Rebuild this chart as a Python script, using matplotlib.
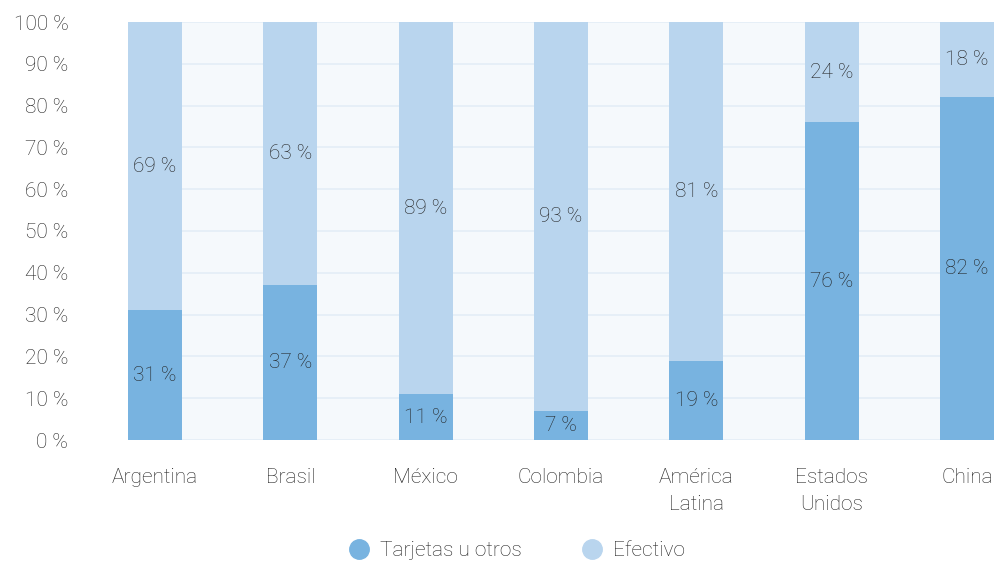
import matplotlib
matplotlib.use('Agg')
import matplotlib.pyplot as plt
from matplotlib.lines import Line2D
import numpy as np

paises = ['Argentina', 'Brasil', 'México', 'Colombia', 'América\nLatina',
          'Estados\nUnidos', 'China']
tarjetas = [31, 37, 11, 7, 19, 76, 82]
efectivo = [69, 63, 89, 93, 81, 24, 18]
yticks = [0, 10, 20, 30, 40, 50, 60, 70, 80, 90, 100]

c_tarjetas = '#78b3e0'
c_efectivo = '#b9d5ee'
c_texto = '#222222'

plt.rcParams['font.family'] = ['Roboto', 'DejaVu Sans']
plt.rcParams['font.weight'] = 'light'

fig = plt.figure(figsize=(9.94, 5.61), dpi=100)
ax = fig.add_axes([128 / 994, 121 / 561, 866 / 994, 418 / 561])
ax.set_facecolor('#f5f9fc')

x = np.arange(len(paises))
ax.bar(x, tarjetas, width=0.4, color=c_tarjetas, zorder=3)
ax.bar(x, efectivo, width=0.4, bottom=tarjetas, color=c_efectivo, zorder=3)

for i in range(len(paises)):
    ax.text(x[i], tarjetas[i] / 2, '{} %'.format(tarjetas[i]), ha='center',
            va='center', fontsize=15, color=c_texto, zorder=4)
    ax.text(x[i], tarjetas[i] + efectivo[i] / 2, '{} %'.format(efectivo[i]),
            ha='center', va='center', fontsize=15, color=c_texto, zorder=4)

ax.set_xlim(-0.2, 6.2)
ax.set_ylim(0, 100)
ax.set_yticks(yticks)
ax.set_yticklabels(['{} %'.format(v) for v in yticks])
ax.set_xticks(x)
ax.set_xticklabels(paises, linespacing=1.55)
ax.tick_params(axis='both', length=0, labelsize=15, labelcolor=c_texto)
ax.tick_params(axis='y', pad=43)
ax.tick_params(axis='x', pad=20)
ax.grid(axis='y', color='#e4edf7', linewidth=1.2, zorder=0)
for s in ax.spines.values():
    s.set_visible(False)

handles = [Line2D([], [], marker='o', linestyle='', markersize=14,
                  color=c_tarjetas, label='Tarjetas u otros'),
           Line2D([], [], marker='o', linestyle='', markersize=14,
                  color=c_efectivo, label='Efectivo')]
fig.legend(handles=handles, loc='center', bbox_to_anchor=(0.52, 0.018),
           ncol=2, frameon=False, fontsize=15, handlelength=1.0,
           handletextpad=0.5, columnspacing=2.85, labelcolor=c_texto)

fig.savefig('out.png', dpi=100)
